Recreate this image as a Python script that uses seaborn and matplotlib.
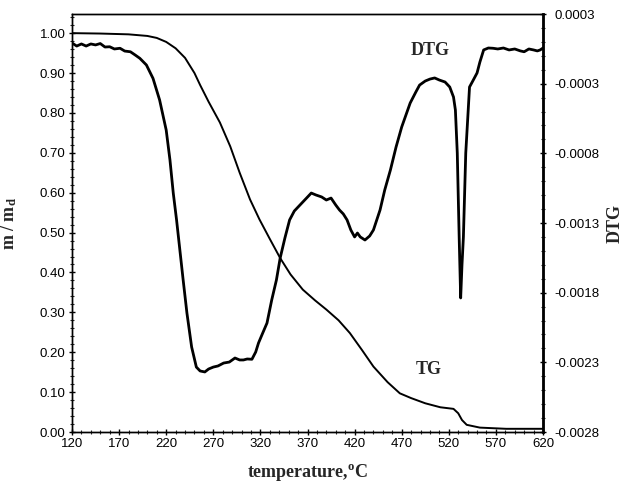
import seaborn as sns
import matplotlib
matplotlib.use("Agg")
import matplotlib.pyplot as plt
from matplotlib.ticker import AutoMinorLocator, MultipleLocator
import pandas as pd

# TG curve (mass fraction m/md)
tg_temp = [120, 150, 180, 200, 210, 220, 230, 240, 250, 256, 265, 277, 288, 298,
           309, 319, 330, 341, 352, 365, 378, 390, 403, 415, 428, 440, 455, 468,
           480, 495, 511, 525, 530, 534, 539, 553, 581, 620]
tg_mass = [1.000, 0.999, 0.997, 0.993, 0.988, 0.978, 0.962, 0.938, 0.900, 0.870,
           0.828, 0.776, 0.716, 0.650, 0.583, 0.533, 0.484, 0.436, 0.395, 0.357,
           0.330, 0.307, 0.280, 0.248, 0.205, 0.164, 0.125, 0.097, 0.085, 0.072,
           0.062, 0.058, 0.047, 0.030, 0.018, 0.011, 0.008, 0.008]

# DTG curve
dtg_temp = [120, 125, 130, 135, 140, 145, 150, 155, 160, 165, 171, 176, 182, 187,
            192, 199, 206, 213, 220, 224, 227.5, 231, 238, 242, 247, 252, 256, 261,
            265, 270, 275, 281, 287, 293, 298, 302, 306, 311, 315, 318, 322, 327,
            332, 337, 341, 346, 351, 356, 362, 369, 374, 379, 385, 390, 395, 400,
            404, 408, 412, 416, 420, 423, 426, 431, 436, 440, 447, 452, 458, 464,
            470, 479, 485, 489, 495, 500, 505, 510, 516, 521, 525, 527, 529, 531,
            532.6, 534, 535.5, 538, 542, 546, 550, 553, 557, 562, 567, 572, 578,
            584, 590, 596, 600, 605, 610, 614, 617, 620]
dtg_val = [0.000042, 0.000020, 0.000035, 0.000020, 0.000035, 0.000028, 0.000038,
           0.000013, 0.000015, -0.000001, 0.000004, -0.000016, -0.000021, -0.000044,
           -0.000068, -0.000116, -0.000212, -0.000367, -0.000583, -0.000798,
           -0.001035, -0.001228, -0.001659, -0.001896, -0.002140, -0.002284,
           -0.002312, -0.002319, -0.002298, -0.002284, -0.002276, -0.002255,
           -0.002248, -0.002219, -0.002233, -0.002233, -0.002226, -0.002228,
           -0.002176, -0.002111, -0.002047, -0.001968, -0.001803, -0.001659,
           -0.001501, -0.001358, -0.001228, -0.001164, -0.001121, -0.001071,
           -0.001035, -0.001049, -0.001063, -0.001085, -0.001071, -0.001121,
           -0.001157, -0.001185, -0.001228, -0.001300, -0.001350, -0.001322,
           -0.001350, -0.001372, -0.001343, -0.001300, -0.001157, -0.001013,
           -0.000870, -0.000705, -0.000561, -0.000389, -0.000310, -0.000260,
           -0.000231, -0.000217, -0.000209, -0.000224, -0.000238, -0.000274,
           -0.000346, -0.000439, -0.000748, -0.001350, -0.001788, -0.001551,
           -0.001350, -0.000748, -0.000274, -0.000224, -0.000173, -0.000095,
           -0.000008, 0.000006, 0.000004, -0.000001, 0.000006, -0.000008,
           -0.000001, -0.000015, -0.000021, -0.000001, -0.000008, -0.000015,
           -0.000008, 0.000006]

left_ticks = [0.0, 0.1, 0.2, 0.3, 0.4, 0.5, 0.6, 0.7, 0.8, 0.9, 1.0]
x_ticks = [120, 170, 220, 270, 320, 370, 420, 470, 520, 570, 620]
right_ticks = [0.00025, -0.00025, -0.00075, -0.00125, -0.00175, -0.00225, -0.00275]
right_labels = ['0.0003', '-0.0003', '-0.0008', '-0.0013', '-0.0018', '-0.0023', '-0.0028']

tg_df = pd.DataFrame({'temperature': tg_temp, 'mass': tg_mass})
dtg_df = pd.DataFrame({'temperature': dtg_temp, 'dtg': dtg_val})

sns.set_theme(style="ticks")
plt.rcParams['font.family'] = ['Liberation Sans', 'DejaVu Sans']
plt.rcParams['mathtext.fontset'] = 'custom'
plt.rcParams['mathtext.rm'] = 'Liberation Serif:bold'
plt.rcParams['mathtext.it'] = 'Liberation Serif:bold'
plt.rcParams['mathtext.bf'] = 'Liberation Serif:bold'

fig = plt.figure(figsize=(6.28, 4.86), dpi=100)
ax = fig.add_axes([72 / 628, 54 / 486, 471 / 628, 418 / 486])
ax2 = ax.twinx()

sns.lineplot(data=tg_df, x='temperature', y='mass', ax=ax, color='black', lw=1.4)
sns.lineplot(data=dtg_df, x='temperature', y='dtg', ax=ax2, color='black', lw=2.0)

ax.set_xlim(120, 620)
ax.set_ylim(0, 1.048)
ax2.set_ylim(-0.00275, 0.00025)

ax.set_xticks(x_ticks)
ax.set_yticks(left_ticks)
ax.set_yticklabels([f"{v:.2f}" for v in left_ticks])
ax.xaxis.set_minor_locator(MultipleLocator(10))
ax.yaxis.set_minor_locator(AutoMinorLocator(5))
ax2.set_yticks(right_ticks)
ax2.set_yticklabels(right_labels)
ax2.yaxis.set_minor_locator(AutoMinorLocator(5))

for a in (ax, ax2):
    a.tick_params(which='major', direction='inout', length=5, width=1,
                  labelsize=9.5, colors='black', pad=2)
    a.tick_params(which='minor', direction='inout', length=3, width=0.8)
    for s in a.spines.values():
        s.set_color('black')
        s.set_linewidth(1.0)
ax2.tick_params(axis='y', which='major', pad=6)
ax2.spines['right'].set_linewidth(2.0)

label_font = dict(family='Liberation Serif', weight='bold', size=13)
ax.set_xlabel('temperature,$^{o}$C', **label_font)
ax.set_ylabel('m / m$_{d}$', **label_font)
ax2.set_ylabel('DTG', **label_font)
ax.xaxis.set_label_coords(0.5, -0.072)
ax.yaxis.set_label_coords(-0.112, 0.5)
ax2.yaxis.set_label_coords(1.135, 0.5)

ax.text(500, 0.957, 'DTG', ha='center', va='center', **label_font)
ax.text(499, 0.156, 'TG', ha='center', va='center', **label_font)

fig.savefig('out.png', dpi=100)
